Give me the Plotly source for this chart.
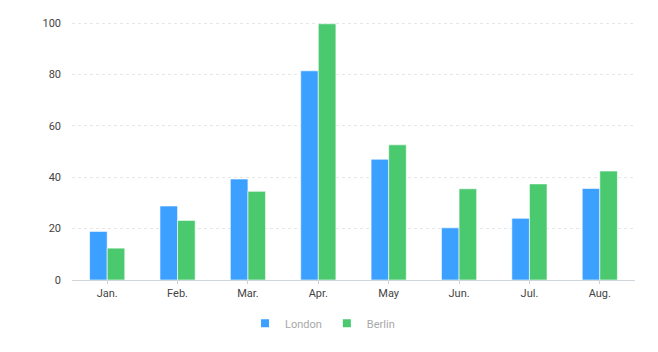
import plotly.graph_objects as go

months = ["Jan.", "Feb.", "Mar.", "Apr.", "May", "Jun.", "Jul.", "Aug."]
london = [18.9, 28.8, 39.3, 81.4, 47, 20.3, 24, 35.6]
berlin = [12.4, 23.2, 34.5, 99.7, 52.6, 35.5, 37.4, 42.4]
names = ["London", "Berlin"]
colors = ["#3ba0ff", "#4ac96f"]

fig = go.Figure()
for name, vals, col in zip(names, [london, berlin], colors):
    fig.add_bar(x=months, y=vals, name=name, showlegend=False, legendgroup=name,
                marker=dict(color=col, line=dict(color="white", width=0.6)))
for name, col in zip(names, colors):
    fig.add_scatter(x=[None], y=[None], mode="markers", name=name, legendgroup=name,
                    marker=dict(symbol="square", size=8, color=col))

fig.update_layout(
    width=658, height=352,
    margin=dict(l=72, r=23, t=22, b=72),
    paper_bgcolor="white", plot_bgcolor="white",
    barmode="group", bargap=0.5, bargroupgap=0,
    font=dict(family="Roboto, Open Sans, sans-serif", size=11, color="#555"),
    showlegend=True,
    legend=dict(orientation="h", x=0.445, xanchor="center", y=-0.168, yanchor="middle",
                font=dict(size=11, color="#a8a8a8"), itemwidth=30, traceorder="normal",
                tracegroupgap=0),
    xaxis=dict(showgrid=False, showline=True, linecolor="#cfd6dc", linewidth=1,
               ticks="outside", ticklen=3, tickcolor="#d0d0d0",
               tickfont=dict(size=11, color="#444")),
    yaxis=dict(range=[0, 100.4], tickvals=[0, 20, 40, 60, 80, 100], showgrid=True,
               gridcolor="#e6e6e6", griddash="3px,3px", gridwidth=1, zeroline=False,
               showline=False, ticks="", ticklabelstandoff=10,
               tickfont=dict(size=11, color="#444")),
)

fig.write_html("out.html")
